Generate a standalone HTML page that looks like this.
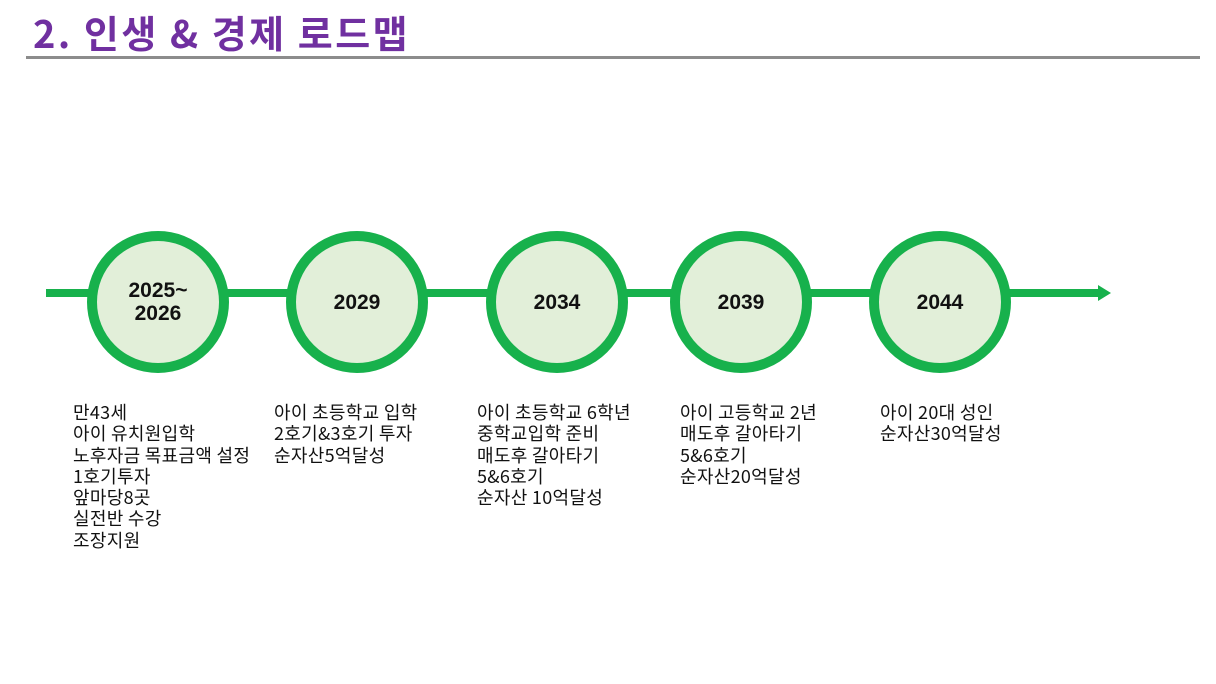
<!DOCTYPE html>
<html><head><meta charset="utf-8"><style>
body{margin:0;width:1216px;height:684px;background:#fff;position:relative;overflow:hidden;font-family:"Liberation Sans","Noto Sans CJK KR",sans-serif}
.t{position:absolute;left:33px;top:10px;font-size:38px;font-weight:bold;color:#7030a0;letter-spacing:2.5px;line-height:44px;font-family:"Noto Sans CJK KR",sans-serif}
.rule{position:absolute;left:26px;top:56px;width:1174px;height:3px;background:#8c8c8c}
.c{position:absolute;width:122px;height:122px;border:10px solid #17b14c;border-radius:50%;background:#e2efd9;display:flex;align-items:center;justify-content:center;text-align:center;font-size:21px;font-weight:bold;line-height:23px;color:#111}
.d{position:absolute;top:402px;font-size:18px;line-height:21.3px;color:#111;font-family:"Noto Sans CJK KR",sans-serif;letter-spacing:0.3px}
</style></head><body>
<div class="t">2. 인생 &amp; 경제 로드맵</div>
<div class="rule"></div>
<svg style="position:absolute;left:0;top:0" width="1216" height="684">
<line x1="46" y1="293" x2="1100" y2="293" stroke="#17b14c" stroke-width="8"/>
<polygon points="1098,285 1111,293 1098,301" fill="#17b14c"/>
</svg>
<div class="c" style="left:87px;top:231px">2025~<br>2026</div>
<div class="c" style="left:286px;top:231px">2029</div>
<div class="c" style="left:486px;top:231px">2034</div>
<div class="c" style="left:670px;top:231px">2039</div>
<div class="c" style="left:869px;top:231px">2044</div>
<div class="d" style="left:73px">만43세<br>아이 유치원입학<br>노후자금 목표금액 설정<br>1호기투자<br>앞마당8곳<br>실전반 수강<br>조장지원</div>
<div class="d" style="left:274px">아이 초등학교 입학<br>2호기&amp;3호기 투자<br>순자산5억달성</div>
<div class="d" style="left:477px">아이 초등학교 6학년<br>중학교입학 준비<br>매도후 갈아타기<br>5&amp;6호기<br>순자산 10억달성</div>
<div class="d" style="left:680px">아이 고등학교 2년<br>매도후 갈아타기<br>5&amp;6호기<br>순자산20억달성</div>
<div class="d" style="left:880px">아이 20대 성인<br>순자산30억달성</div>
</body></html>
